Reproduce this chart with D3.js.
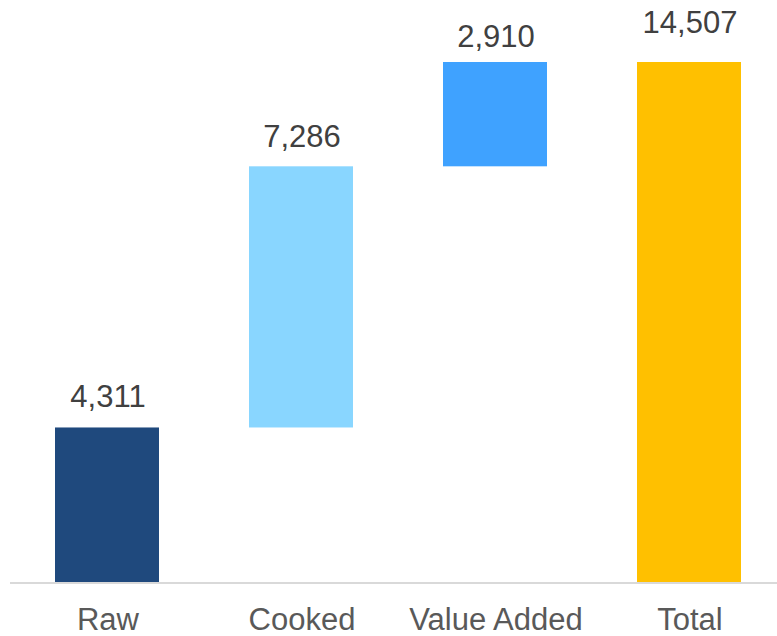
<!DOCTYPE html>
<html><head><meta charset="utf-8">
<script src="https://cdn.jsdelivr.net/npm/d3@7"></script>
<style>body{margin:0;background:#fff}svg{display:block}</style>
</head><body>
<svg id="c" width="777" height="636"></svg>
<script>
const categories = ["Raw", "Cooked", "Value Added", "Total"];
const values = [4311, 7286, 2910, 14507];
const isTotal = [false, false, false, true];
const colors = ["#1f497d", "#89d6ff", "#3fa2ff", "#ffc000"];
const labelGap = [20, 19, 15, 29];

const svg = d3.select("#c");
const x = d3.scaleBand().domain(categories).range([10, 786]).paddingInner(90/194).paddingOuter(45/194);
const y = d3.scaleLinear().domain([0, 14507]).range([582, 62]);

let run = 0;
const bars = categories.map((c, i) => {
  let lo, hi;
  if (isTotal[i]) { lo = 0; hi = values[i]; }
  else { lo = run; hi = run + values[i]; run = hi; }
  return {c, lo, hi, v: values[i], i};
});

svg.selectAll("rect.bar").data(bars).join("rect")
  .attr("x", d => x(d.c)).attr("width", x.bandwidth())
  .attr("y", d => y(d.hi)).attr("height", d => y(d.lo) - y(d.hi))
  .attr("fill", d => colors[d.i]);

svg.append("line").attr("x1", 10).attr("x2", 777).attr("y1", 583).attr("y2", 583)
  .attr("stroke", "#d9d9d9").attr("stroke-width", 2);

const fmt = d3.format(",");
svg.selectAll("text.val").data(bars).join("text")
  .attr("x", d => x(d.c) + x.bandwidth()/2 + 1)
  .attr("y", d => y(d.hi) - labelGap[d.i])
  .attr("text-anchor", "middle")
  .attr("font-family", "Liberation Sans, Arial, sans-serif")
  .attr("font-size", 31).attr("fill", "#404040")
  .text(d => fmt(d.v));

svg.selectAll("text.cat").data(categories).join("text")
  .attr("x", d => x(d) + x.bandwidth()/2 + 1)
  .attr("y", 630)
  .attr("text-anchor", "middle")
  .attr("font-family", "Liberation Sans, Arial, sans-serif")
  .attr("font-size", 31).attr("fill", "#595959")
  .text(d => d);
</script>
</body></html>
